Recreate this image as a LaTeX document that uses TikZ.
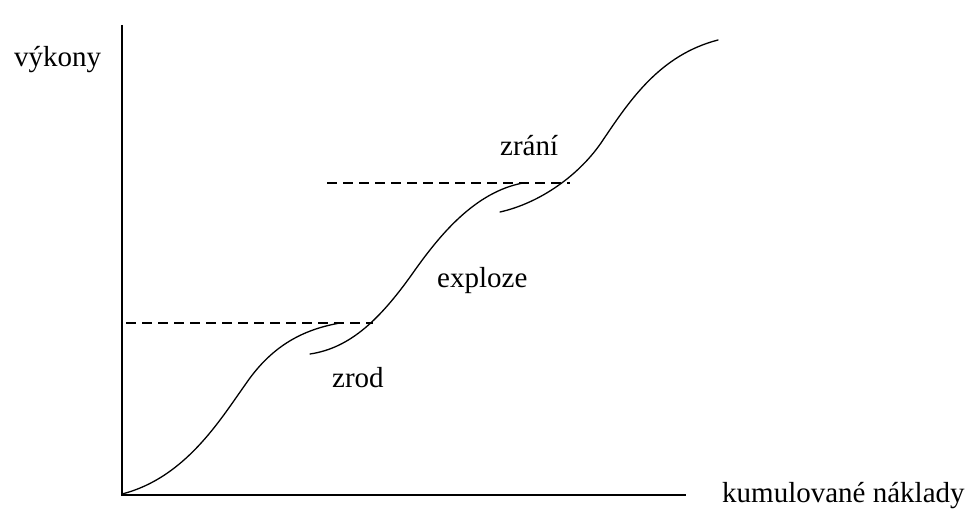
\documentclass[tikz,border=0pt]{standalone}
\usepackage{fontspec}
\setmainfont{Liberation Serif}
\begin{document}
\begin{tikzpicture}[x=1pt,y=-1pt,
  axis/.style={line width=1.8pt,black},
  curve/.style={line width=1.3pt,black,line cap=round},
  level/.style={line width=1.5pt,black,dash pattern=on 10pt off 6pt},
  lbl/.style={font=\fontsize{29}{32}\selectfont,inner sep=0pt,anchor=base west}]
\useasboundingbox (0,0) rectangle (969,516);
% axes
\coordinate (O) at (122,495);
\coordinate (ytop) at (122,25);
\coordinate (xend) at (686,495);
\draw[axis] (ytop) -- (O) -- (xend);
% dashed levels
\coordinate (d1a) at (126,323);
\coordinate (d1b) at (373,323);
\coordinate (d2a) at (327,183);
\coordinate (d2b) at (570,183);
\draw[level] (d1a) -- (d1b);
\draw[level] (d2a) -- (d2b);
% S-curves
\coordinate (c1s) at (122,494);
\coordinate (c1m) at (245,385);
\coordinate (c1e) at (340,323);
\draw[curve] (c1s) .. controls (185,478) and (220,420) .. (c1m)
                  .. controls (270,348) and (300,330) .. (c1e);
\coordinate (c2s) at (310,354);
\coordinate (c2m) at (415,270);
\coordinate (c2e) at (523,183);
\draw[curve] (c2s) .. controls (350,348) and (380,320) .. (c2m)
                  .. controls (440,235) and (475,192) .. (c2e);
\coordinate (c3s) at (500,212);
\coordinate (c3m) at (603,140);
\coordinate (c3e) at (718,40);
\draw[curve] (c3s) .. controls (540,203) and (580,175) .. (c3m)
                  .. controls (630,100) and (660,55) .. (c3e);
% labels
\node[lbl] (vykony) at (14,67) {výkony};
\node[lbl] (naklady) at (722,502) {kumulované náklady};
\node[lbl] (zrod) at (332,387) {zrod};
\node[lbl] (exploze) at (437,287) {exploze};
\node[lbl] (zrani) at (500,156) {zrání};
\end{tikzpicture}
\end{document}
